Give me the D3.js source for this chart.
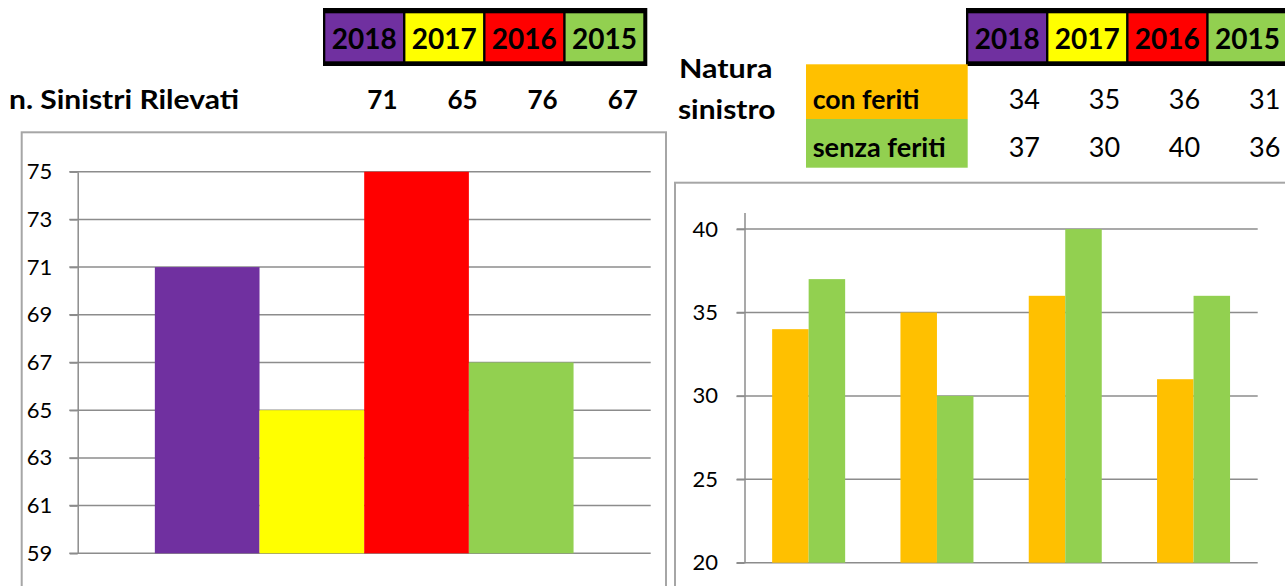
<!DOCTYPE html>
<html>
<head>
<meta charset="utf-8">
<script src="https://cdn.jsdelivr.net/npm/d3@7"></script>
<style>
  body { margin: 0; background: #fff; }
  svg { display: block; font-family: Lato, "Open Sans", sans-serif; }
</style>
</head>
<body>
<div id="chart"></div>
<script>
// data
const years = ["2018", "2017", "2016", "2015"];
const yearColors = ["#7030A0", "#FFFF00", "#FF0000", "#92D050"];
const sinistri = [71, 65, 76, 67];
const natura = ["con feriti", "senza feriti"];
const naturaColors = ["#FFC000", "#92D050"];
const conFeriti = [34, 35, 36, 31];
const senzaFeriti = [37, 30, 40, 36];
const leftTicks = [59, 61, 63, 65, 67, 69, 71, 73, 75];
const rightTicks = [20, 25, 30, 35, 40];

const width = 1285;
const height = 586;
const grid = "#8c8c8c";
const frame = "#a6a6a6";

let svg = d3.select("#chart")
  .append("svg")
    .attr("width", width)
    .attr("height", height);

let color = d3.scaleOrdinal().domain(years).range(yearColors);

// header row with the coloured years
function yearHeader(x0) {
    let xh = d3.scaleBand().domain(years).range([x0 + 2.3, x0 + 320.3]).paddingInner(0.03);
    svg.append("rect")
      .attr("x", x0).attr("y", 8)
      .attr("width", 324.3).attr("height", 58)
      .attr("fill", "#000");
    svg.selectAll(null)
      .data(years)
      .enter()
      .append("rect")
        .attr("x", d => xh(d))
        .attr("y", 13.3)
        .attr("width", xh.bandwidth())
        .attr("height", 48)
        .attr("fill", d => color(d));
    svg.selectAll(null)
      .data(years)
      .enter()
      .append("text")
        .attr("x", d => xh(d) + xh.bandwidth() / 2)
        .attr("y", 49.3)
        .attr("text-anchor", "middle")
        .style("font-size", "28px")
        .style("font-weight", "bold")
        .text(d => d);
    return xh;
}

let xhL = yearHeader(323);
let xhR = yearHeader(966);

// ---- left table row
svg.append("text")
  .attr("x", 9).attr("y", 108.5)
  .attr("textLength", 230).attr("lengthAdjust", "spacingAndGlyphs")
  .style("font-size", "26px").style("font-weight", "bold")
  .text("n. Sinistri Rilevati");

svg.selectAll(null)
  .data(sinistri)
  .enter()
  .append("text")
    .attr("x", (d, i) => xhL(years[i]) + xhL.bandwidth() - 5.5)
    .attr("y", 108.5)
    .attr("text-anchor", "end")
    .style("font-size", "26px").style("font-weight", "bold")
    .text(d => d);

// ---- right table
svg.append("text")
  .attr("x", 725.7).attr("y", 77.7)
  .attr("text-anchor", "middle")
  .attr("textLength", 93.5).attr("lengthAdjust", "spacingAndGlyphs")
  .style("font-size", "26px").style("font-weight", "bold")
  .text("Natura");
svg.append("text")
  .attr("x", 726.7).attr("y", 119)
  .attr("text-anchor", "middle")
  .attr("textLength", 97.5).attr("lengthAdjust", "spacingAndGlyphs")
  .style("font-size", "26px").style("font-weight", "bold")
  .text("sinistro");

// excel rows are not the same height
let rowTop = d3.scaleOrdinal().domain(natura).range([64.3, 119]);
let rowH = d3.scaleOrdinal().domain(natura).range([54.7, 48.7]);
let rowBase = d3.scaleOrdinal().domain(natura).range([109, 156.7]);
let rowLen = d3.scaleOrdinal().domain(natura).range([106.7, 133]);

svg.selectAll(null)
  .data(natura)
  .enter()
  .append("rect")
    .attr("x", 806)
    .attr("y", d => rowTop(d))
    .attr("width", 161.7)
    .attr("height", d => rowH(d))
    .attr("fill", (d, i) => naturaColors[i]);
svg.selectAll(null)
  .data(natura)
  .enter()
  .append("text")
    .attr("x", 812.7)
    .attr("y", d => rowBase(d))
    .attr("textLength", d => rowLen(d)).attr("lengthAdjust", "spacingAndGlyphs")
    .style("font-size", "26px").style("font-weight", "bold")
    .text(d => d);

[conFeriti, senzaFeriti].forEach((row, r) => {
    svg.selectAll(null)
      .data(row)
      .enter()
      .append("text")
        .attr("x", (d, i) => xhR(years[i]) + xhR.bandwidth() - 6)
        .attr("y", rowBase(natura[r]))
        .attr("text-anchor", "end")
        .style("font-size", "27px")
        .text(d => d);
});

// ---- chart frames
svg.append("rect")
  .attr("x", 21.7).attr("y", 132.3)
  .attr("width", 644.3).attr("height", 500)
  .attr("fill", "none").attr("stroke", frame).attr("stroke-width", 2);
svg.append("rect")
  .attr("x", 675).attr("y", 182.7)
  .attr("width", 700).attr("height", 500)
  .attr("fill", "none").attr("stroke", frame).attr("stroke-width", 2);

// ---- left chart
let yL = d3.scaleLinear().domain([59, 75]).range([553.3, 171.7]).clamp(true);
let xL = d3.scaleBand().domain(years).range([77.7, 650.7]).paddingInner(0).paddingOuter(0.737);

svg.append("g")
  .selectAll("line")
  .data(leftTicks)
  .enter()
  .append("line")
    .attr("x1", 69.3).attr("x2", 650.7)
    .attr("y1", d => yL(d)).attr("y2", d => yL(d))
    .attr("stroke", grid).attr("stroke-width", 1.5);

svg.selectAll(null)
  .data(sinistri)
  .enter()
  .append("rect")
    .attr("x", (d, i) => xL(years[i]))
    .attr("y", d => yL(d))
    .attr("width", xL.bandwidth())
    .attr("height", d => yL(59) - yL(d))
    .attr("fill", (d, i) => color(years[i]));

let axL = svg.append("g")
  .attr("transform", "translate(77.7,0)")
  .call(d3.axisLeft(yL).tickValues(leftTicks).tickSizeInner(8).tickSizeOuter(0).tickPadding(17.5));

// ---- right chart
let yR = d3.scaleLinear().domain([20, 41]).range([562.7, 212.4]);
let xR = d3.scaleBand().domain(years).range([744.5, 1257.7]).paddingInner(0.431).paddingOuter(0.2155);
let xS = d3.scaleBand().domain(natura).range([0, xR.bandwidth()]);

svg.append("g")
  .selectAll("line")
  .data(rightTicks)
  .enter()
  .append("line")
    .attr("x1", 736.7).attr("x2", 1257.7)
    .attr("y1", d => yR(d)).attr("y2", d => yR(d))
    .attr("stroke", grid).attr("stroke-width", 1.5);

[conFeriti, senzaFeriti].forEach((row, r) => {
    svg.selectAll(null)
      .data(row)
      .enter()
      .append("rect")
        .attr("x", (d, i) => xR(years[i]) + xS(natura[r]))
        .attr("y", d => yR(d))
        .attr("width", xS.bandwidth())
        .attr("height", d => yR(20) - yR(d))
        .attr("fill", naturaColors[r]);
});

let axR = svg.append("g")
  .attr("transform", "translate(744.5,0)")
  .call(d3.axisLeft(yR).tickValues(rightTicks).tickSizeInner(8).tickSizeOuter(0).tickPadding(18.4));

// excel-ish axis styling
[axL, axR].forEach(ax => {
    ax.select(".domain").attr("stroke", grid).attr("stroke-width", 1.5);
    ax.selectAll(".tick line").attr("stroke", grid).attr("stroke-width", 1.5);
    ax.selectAll(".tick text")
      .attr("fill", "#000")
      .style("font-family", "Lato, 'Open Sans', sans-serif")
      .style("font-size", "22px");
});
</script>
</body>
</html>
